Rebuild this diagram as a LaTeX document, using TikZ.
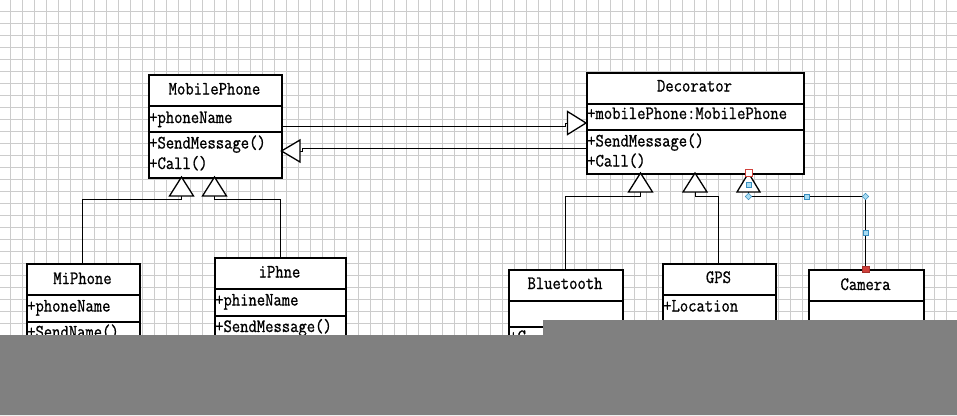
\documentclass[tikz,border=0pt]{standalone}
\usepackage{fontspec}
\newfontfamily\umlmono{Latin Modern Mono}[FakeStretch=0.86,FakeBold=0.9]
\newcommand\umlfont{\umlmono\fontsize{18.8}{22}\selectfont}
\definecolor{gridc}{HTML}{CCCCCC}
\definecolor{bandc}{HTML}{808080}
\definecolor{hblue}{HTML}{3A8FC0}
\definecolor{hfill}{HTML}{A8DCF2}
\definecolor{hred}{HTML}{D0403A}
\begin{document}
\begin{tikzpicture}[x=1pt,y=-1pt,
  cls/.style={draw, line width=1.6pt, inner sep=0pt, anchor=north west, fill=white, font=\umlfont},
  lbl/.style={inner sep=0pt, anchor=base west, font=\umlfont},
  ttl/.style={inner sep=0pt, anchor=base, font=\umlfont},
  conn/.style={line width=0.9pt},
  tri/.style={draw, line width=1.3pt, fill=white, line join=miter},
  gridl/.style={line width=0.6pt, draw=gridc},
  hsq/.style={draw=hblue, fill=hfill, line width=0.5pt, minimum size=4.5pt, inner sep=0pt},
  hdia/.style={draw=hblue, fill=hfill, line width=0.5pt, minimum size=4.5pt, inner sep=0pt, rotate=45}
]
\useasboundingbox (0,0) rectangle (957,415);
\fill[white] (0,0) rectangle (957,415);
% grid
\foreach \gx in {10,22,...,958} {\draw[gridl] (\gx,0) -- (\gx,415);}
\foreach \gy in {11,23,...,415} {\draw[gridl] (0,\gy) -- (957,\gy);}

% ---------------- MobilePhone
\node[cls, minimum width=133pt, minimum height=31pt] (mpT) at (148,74) {};
\node[cls, minimum width=133pt, minimum height=26pt] (mpA) at (148,105) {};
\node[cls, minimum width=133pt, minimum height=46pt] (mpM) at (148,131) {};
\node[ttl] (mpTt) at (214.5,94.5) {MobilePhone};
\node[lbl] (mpA1) at (149,123) {+phoneName};
\node[lbl] (mpM1) at (149,148.5) {+SendMessage()};
\node[lbl] (mpM2) at (149,169) {+Call()};

% ---------------- MiPhone
\node[cls, minimum width=113pt, minimum height=31pt] (miT) at (26,263) {};
\node[cls, minimum width=113pt, minimum height=27pt] (miA) at (26,294) {};
\node[cls, minimum width=113pt, minimum height=40pt] (miM) at (26,321) {};
\node[ttl] (miTt) at (82.5,284) {MiPhone};
\node[lbl] (miA1) at (27,311.5) {+phoneName};
\node[lbl] (miM1) at (27,337.5) {+SendName()};

% ---------------- iPhne
\node[cls, minimum width=131pt, minimum height=31pt] (ipT) at (214,257) {};
\node[cls, minimum width=131pt, minimum height=27pt] (ipA) at (214,288) {};
\node[cls, minimum width=131pt, minimum height=40pt] (ipM) at (214,315) {};
\node[ttl] (ipTt) at (279.5,277.5) {iPhne};
\node[lbl] (ipA1) at (215,305.5) {+phineName};
\node[lbl] (ipM1) at (215,332) {+SendMessage()};

% ---------------- Decorator
\node[cls, minimum width=217pt, minimum height=31pt] (dcT) at (586,72) {};
\node[cls, minimum width=217pt, minimum height=26pt] (dcA) at (586,103) {};
\node[cls, minimum width=217pt, minimum height=44pt] (dcM) at (586,129) {};
\node[ttl] (dcTt) at (694.5,91.5) {Decorator};
\node[lbl] (dcA1) at (587,119) {+mobilePhone:MobilePhone};
\node[lbl] (dcM1) at (587,146.5) {+SendMessage()};
\node[lbl] (dcM2) at (587,166.5) {+Call()};

% ---------------- Bluetooth
\node[cls, minimum width=114pt, minimum height=31pt] (btT) at (508,269) {};
\node[cls, minimum width=114pt, minimum height=26pt] (btA) at (508,300) {};
\node[cls, minimum width=114pt, minimum height=40pt] (btM) at (508,326) {};
\node[ttl] (btTt) at (565,289) {Bluetooth};
\node[lbl] (btM1) at (509,342) {+C};

% ---------------- GPS
\node[cls, minimum width=113pt, minimum height=31pt] (gpT) at (662,263) {};
\node[cls, minimum width=113pt, minimum height=26pt] (gpA) at (662,294) {};
\node[cls, minimum width=113pt, minimum height=40pt] (gpM) at (662,320) {};
\node[ttl] (gpTt) at (718.5,283) {GPS};
\node[lbl] (gpA1) at (663,311.5) {+Location};

% ---------------- Camera
\node[cls, minimum width=115pt, minimum height=31pt] (caT) at (808,269) {};
\node[cls, minimum width=115pt, minimum height=60pt] (caA) at (808,300) {};
\node[ttl] (caTt) at (865.5,290) {Camera};

% ---------------- generalisation to MobilePhone
\coordinate (g1b) at (181.5,196);
\coordinate (g2b) at (214.5,196);
\draw[conn] (g1b) -- (181.5,199) -- (82.5,199) -- (miT.north -| 82.5,0);
\draw[conn] (g2b) -- (214.5,199) -- (280,199) -- (ipT.north -| 280,0);
\draw[tri] (169.5,196) -- (181.5,177) -- (193.5,196) -- cycle;
\draw[tri] (202.5,196) -- (214.5,177) -- (226.5,196) -- cycle;

% ---------------- MobilePhone <-> Decorator
\draw[conn] (mpA.south east |- 0,126) -- (565,126) -- (565,123) -- (568,123);
\draw[tri] (567.5,111.5) -- (586,123) -- (567.5,134.5) -- cycle;
\draw[conn] (dcM.west |- 0,148) -- (302,148) -- (302,151) -- (300,151);
\draw[tri] (300,140) -- (281.5,151) -- (300,162) -- cycle;

% ---------------- generalisation to Decorator
\draw[conn] (640.5,192) -- (640.5,196) -- (565.5,196) -- (btT.north -| 565.5,0);
\draw[conn] (695,192) -- (695,196) -- (718.5,196) -- (gpT.north -| 718.5,0);
\draw[conn] (748.5,192) -- (748.5,196.5) -- (865.5,196.5) -- (caT.north -| 865.5,0);
\draw[tri] (628.5,192) -- (640.5,173) -- (652.5,192) -- cycle;
\draw[tri] (683,192) -- (695,173) -- (707,192) -- cycle;
\draw[tri] (737,192) -- (748.5,173) -- (760,192) -- cycle;

% ---------------- selection handles
\node[draw=hred, fill=white, line width=0.9pt, minimum size=7pt, inner sep=0pt] (h1) at (748.5,172.5) {};
\node[hsq] (h2) at (748.5,184.5) {};
\node[hdia] (h3) at (748.5,196.5) {};
\node[hsq] (h4) at (806.5,196.5) {};
\node[hdia] (h5) at (865.5,196.5) {};
\node[hsq] (h6) at (865.5,232.5) {};
\node[draw=hred!80!black, fill=hred, line width=0.5pt, minimum size=6.5pt, inner sep=0pt] (h7) at (865.5,269) {};

% ---------------- grey band
\fill[bandc] (0,335) -- (543,335) -- (543,320) -- (957,320) -- (957,415) -- (0,415) -- cycle;
\end{tikzpicture}
\end{document}
